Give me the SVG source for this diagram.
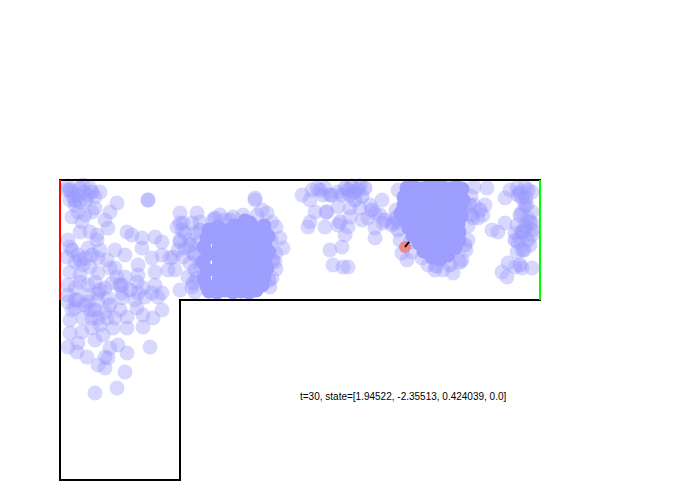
<svg xmlns="http://www.w3.org/2000/svg" width="700" height="500" viewBox="0 0 700 500">
<style>
.p{fill:#9999ff;fill-opacity:.38}
.d{fill:#9999ff;fill-opacity:.5}
.s{fill:#9e9eff}
.b{fill:#9e9eff}
.wall{fill:none;stroke:#000;stroke-width:2}
.lbl{font-family:"Liberation Sans",Arial,sans-serif;font-size:10px;fill:#000}
circle{r:7.5px}
</style>
<rect width="700" height="500" fill="#fff"/>
<g id="particles">
<!-- region A -->
<circle class="p" cx="67" cy="190" r="7"/><circle class="p" cx="73" cy="197" r="7"/><circle class="p" cx="83" cy="185" r="7"/><circle class="p" cx="88" cy="195" r="7"/><circle class="p" cx="95" cy="197" r="7"/><circle class="p" cx="100" cy="192" r="7"/><circle class="p" cx="75" cy="205" r="7"/><circle class="p" cx="70" cy="200" r="7"/><circle class="p" cx="80" cy="202" r="7"/><circle class="p" cx="92" cy="212" r="7"/><circle class="p" cx="85" cy="215" r="7"/><circle class="p" cx="78" cy="212" r="7"/><circle class="p" cx="82" cy="222" r="7"/><circle class="p" cx="95" cy="208" r="7"/><circle class="p" cx="117" cy="203" r="7"/><circle class="p" cx="110" cy="212" r="7"/><circle class="p" cx="72" cy="192" r="7"/><circle class="p" cx="90" cy="188" r="7"/><circle class="p" cx="78" cy="195" r="7"/><circle class="p" cx="68" cy="186" r="7"/><circle class="p" cx="84" cy="192" r="7"/>
<circle class="p" cx="148" cy="200" r="7"/><circle class="p" cx="148" cy="200" r="7"/>
<circle class="p" cx="72" cy="217" r="7"/><circle class="p" cx="105" cy="220" r="7"/><circle class="p" cx="108" cy="228" r="7"/><circle class="p" cx="97" cy="235" r="7"/><circle class="p" cx="90" cy="232" r="7"/><circle class="p" cx="80" cy="232" r="7"/><circle class="p" cx="68" cy="240" r="7"/><circle class="p" cx="70" cy="247" r="7"/><circle class="p" cx="67" cy="257" r="7"/><circle class="p" cx="78" cy="255" r="7"/><circle class="p" cx="85" cy="258" r="7"/><circle class="p" cx="83" cy="265" r="7"/><circle class="p" cx="90" cy="267" r="7"/><circle class="p" cx="98" cy="258" r="7"/><circle class="p" cx="107" cy="260" r="7"/><circle class="p" cx="115" cy="250" r="7"/><circle class="p" cx="125" cy="255" r="7"/><circle class="p" cx="115" cy="268" r="7"/><circle class="p" cx="127" cy="232" r="7"/><circle class="p" cx="132" cy="235" r="7"/><circle class="p" cx="142" cy="238" r="7"/><circle class="p" cx="142" cy="248" r="7"/><circle class="p" cx="155" cy="237" r="7"/><circle class="p" cx="162" cy="242" r="7"/><circle class="p" cx="152" cy="258" r="7"/><circle class="p" cx="162" cy="255" r="7"/><circle class="p" cx="170" cy="258" r="7"/><circle class="p" cx="180" cy="223" r="7"/><circle class="p" cx="182" cy="230" r="7"/><circle class="p" cx="180" cy="242" r="7"/><circle class="p" cx="178" cy="250" r="7"/><circle class="p" cx="97" cy="240" r="7"/><circle class="p" cx="88" cy="248" r="7"/><circle class="p" cx="75" cy="262" r="7"/><circle class="p" cx="100" cy="250" r="7"/>
<circle class="p" cx="70" cy="272" r="7"/><circle class="p" cx="80" cy="275" r="7"/><circle class="p" cx="98" cy="273" r="7"/><circle class="p" cx="110" cy="268" r="7"/><circle class="p" cx="117" cy="277" r="7"/><circle class="p" cx="125" cy="277" r="7"/><circle class="p" cx="138" cy="275" r="7"/><circle class="p" cx="155" cy="272" r="7"/><circle class="p" cx="168" cy="270" r="7"/><circle class="p" cx="68" cy="285" r="7"/><circle class="p" cx="75" cy="288" r="7"/><circle class="p" cx="88" cy="285" r="7"/><circle class="p" cx="95" cy="282" r="7"/><circle class="p" cx="112" cy="283" r="7"/><circle class="p" cx="122" cy="285" r="7"/><circle class="p" cx="137" cy="282" r="7"/><circle class="p" cx="143" cy="288" r="7"/><circle class="p" cx="155" cy="285" r="7"/><circle class="p" cx="162" cy="293" r="7"/><circle class="p" cx="68" cy="295" r="7"/><circle class="p" cx="88" cy="295" r="7"/><circle class="p" cx="98" cy="293" r="7"/><circle class="p" cx="122" cy="293" r="7"/><circle class="p" cx="138" cy="293" r="7"/><circle class="p" cx="152" cy="293" r="7"/><circle class="p" cx="138" cy="265" r="7"/><circle class="p" cx="80" cy="282" r="7"/><circle class="p" cx="105" cy="288" r="7"/>
<circle class="d" cx="70" cy="190" r="7"/><circle class="d" cx="80" cy="188" r="7"/><circle class="d" cx="92" cy="192" r="7"/><circle class="d" cx="75" cy="200" r="7"/><circle class="d" cx="86" cy="200" r="7"/><circle class="d" cx="72" cy="250" r="7"/><circle class="d" cx="80" cy="260" r="7"/><circle class="d" cx="92" cy="255" r="7"/><circle class="d" cx="120" cy="285" r="7"/><circle class="d" cx="130" cy="290" r="7"/><circle class="d" cx="100" cy="290" r="7"/>
<!-- region B -->
<circle class="p" cx="68" cy="302" r="7"/><circle class="p" cx="78" cy="300" r="7"/><circle class="p" cx="88" cy="302" r="7"/><circle class="p" cx="98" cy="300" r="7"/><circle class="p" cx="108" cy="298" r="7"/><circle class="p" cx="122" cy="298" r="7"/><circle class="p" cx="135" cy="300" r="7"/><circle class="p" cx="145" cy="297" r="7"/><circle class="p" cx="158" cy="297" r="7"/><circle class="p" cx="72" cy="310" r="7"/><circle class="p" cx="83" cy="318" r="7"/><circle class="p" cx="92" cy="318" r="7"/><circle class="p" cx="98" cy="318" r="7"/><circle class="p" cx="107" cy="318" r="7"/><circle class="p" cx="115" cy="318" r="7"/><circle class="p" cx="127" cy="317" r="7"/><circle class="p" cx="137" cy="308" r="7"/><circle class="p" cx="143" cy="315" r="7"/><circle class="p" cx="153" cy="318" r="7"/><circle class="p" cx="162" cy="310" r="7"/><circle class="p" cx="70" cy="333" r="7"/><circle class="p" cx="82" cy="332" r="7"/><circle class="p" cx="92" cy="328" r="7"/><circle class="p" cx="103" cy="335" r="7"/><circle class="p" cx="113" cy="328" r="7"/><circle class="p" cx="127" cy="328" r="7"/><circle class="p" cx="143" cy="327" r="7"/><circle class="p" cx="68" cy="347" r="7"/><circle class="p" cx="78" cy="343" r="7"/><circle class="p" cx="77" cy="352" r="7"/><circle class="p" cx="87" cy="357" r="7"/><circle class="p" cx="95" cy="340" r="7"/><circle class="p" cx="105" cy="357" r="7"/><circle class="p" cx="108" cy="358" r="7"/><circle class="p" cx="118" cy="345" r="7"/><circle class="p" cx="127" cy="353" r="7"/><circle class="p" cx="150" cy="347" r="7"/><circle class="p" cx="110" cy="348" r="7"/><circle class="p" cx="98" cy="365" r="7"/><circle class="p" cx="105" cy="368" r="7"/><circle class="p" cx="125" cy="372" r="7"/><circle class="p" cx="117" cy="388" r="7"/><circle class="p" cx="95" cy="393" r="7"/><circle class="p" cx="75" cy="308" r="7"/><circle class="p" cx="90" cy="310" r="7"/><circle class="p" cx="105" cy="312" r="7"/><circle class="p" cx="120" cy="310" r="7"/><circle class="p" cx="70" cy="320" r="7"/><circle class="p" cx="100" cy="325" r="7"/>
<circle class="d" cx="95" cy="310" r="7"/><circle class="d" cx="85" cy="305" r="7"/><circle class="d" cx="110" cy="305" r="7"/><circle class="d" cx="75" cy="300" r="7"/>
<!-- region C -->
<circle class="p" cx="255" cy="198" r="7"/><circle class="p" cx="255" cy="200" r="7"/><circle class="p" cx="302" cy="195" r="7"/>
<circle class="p" cx="180" cy="213" r="7"/><circle class="p" cx="197" cy="213" r="7"/><circle class="p" cx="183" cy="223" r="7"/><circle class="p" cx="177" cy="227" r="7"/><circle class="p" cx="192" cy="223" r="7"/><circle class="p" cx="200" cy="222" r="7"/><circle class="p" cx="185" cy="233" r="7"/><circle class="p" cx="195" cy="233" r="7"/><circle class="p" cx="198" cy="243" r="7"/><circle class="p" cx="190" cy="240" r="7"/><circle class="p" cx="180" cy="240" r="7"/><circle class="p" cx="173" cy="257" r="7"/><circle class="p" cx="183" cy="257" r="7"/><circle class="p" cx="193" cy="253" r="7"/><circle class="p" cx="190" cy="263" r="7"/><circle class="p" cx="175" cy="270" r="7"/><circle class="p" cx="188" cy="277" r="7"/><circle class="p" cx="180" cy="290" r="7"/><circle class="p" cx="192" cy="287" r="7"/><circle class="p" cx="197" cy="278" r="7"/><circle class="p" cx="213" cy="220" r="7"/><circle class="p" cx="220" cy="215" r="7"/><circle class="p" cx="225" cy="220" r="7"/><circle class="p" cx="233" cy="217" r="7"/><circle class="p" cx="243" cy="215" r="7"/><circle class="p" cx="257" cy="215" r="7"/><circle class="p" cx="267" cy="213" r="7"/><circle class="p" cx="272" cy="222" r="7"/><circle class="p" cx="276" cy="227" r="7"/><circle class="p" cx="280" cy="238" r="7"/><circle class="p" cx="283" cy="248" r="7"/><circle class="p" cx="276" cy="253" r="7"/><circle class="p" cx="275" cy="262" r="7"/><circle class="p" cx="276" cy="269" r="7"/><circle class="p" cx="272" cy="278" r="7"/><circle class="p" cx="270" cy="287" r="7"/><circle class="p" cx="262" cy="210" r="7"/><circle class="p" cx="185" cy="248" r="7"/><circle class="p" cx="200" cy="266" r="7"/><circle class="p" cx="195" cy="292" r="7"/>
<circle class="d" cx="195" cy="255" r="7"/><circle class="d" cx="195" cy="270" r="7"/><circle class="d" cx="193" cy="283" r="7"/><circle class="d" cx="200" cy="230" r="7"/><circle class="d" cx="215" cy="218" r="7"/><circle class="d" cx="230" cy="220" r="7"/><circle class="d" cx="271" cy="240" r="7"/><circle class="d" cx="273" cy="260" r="7"/><circle class="d" cx="269" cy="280" r="7"/><circle class="d" cx="190" cy="245" r="7"/>
<path class="b" d="M212,232 L262,232 L264,288 L212,288 Z"/>
<circle class="s" cx="209" cy="230" r="7"/><circle class="s" cx="218" cy="227" r="7"/><circle class="s" cx="226" cy="231" r="7"/><circle class="s" cx="234" cy="226" r="7"/><circle class="s" cx="243" cy="229" r="7"/><circle class="s" cx="250" cy="223" r="7"/><circle class="s" cx="257" cy="229" r="7"/><circle class="s" cx="264" cy="226" r="7"/><circle class="s" cx="245" cy="221" r="7"/>
<circle class="s" cx="268" cy="236" r="7"/><circle class="s" cx="265" cy="244" r="7"/><circle class="s" cx="269" cy="252" r="7"/><circle class="s" cx="265" cy="260" r="7"/><circle class="s" cx="267" cy="268" r="7"/><circle class="s" cx="264" cy="277" r="7"/><circle class="s" cx="262" cy="285" r="7"/>
<circle class="s" cx="209" cy="291" r="6.5"/><circle class="s" cx="217" cy="292" r="6.5"/><circle class="s" cx="225" cy="290" r="6.5"/><circle class="s" cx="233" cy="292" r="6.5"/><circle class="s" cx="241" cy="291" r="6.5"/><circle class="s" cx="249" cy="292" r="6.5"/><circle class="s" cx="256" cy="290" r="6.5"/>
<circle class="s" cx="207" cy="238" r="7"/><circle class="s" cx="204" cy="247" r="7"/><circle class="s" cx="208" cy="254" r="7"/><circle class="s" cx="203" cy="262" r="7"/><circle class="s" cx="207" cy="270" r="7"/><circle class="s" cx="204" cy="279" r="7"/><circle class="s" cx="207" cy="286" r="7"/>
<!-- region D -->
<circle class="p" cx="312" cy="190" r="7"/><circle class="p" cx="317" cy="188" r="7"/><circle class="p" cx="325" cy="188" r="7"/><circle class="p" cx="323" cy="195" r="7"/><circle class="p" cx="332" cy="195" r="7"/><circle class="p" cx="338" cy="192" r="7"/><circle class="p" cx="310" cy="200" r="7"/><circle class="p" cx="315" cy="212" r="7"/><circle class="p" cx="327" cy="212" r="7"/><circle class="p" cx="338" cy="207" r="7"/><circle class="p" cx="350" cy="208" r="7"/><circle class="p" cx="360" cy="208" r="7"/><circle class="p" cx="370" cy="205" r="7"/><circle class="p" cx="382" cy="200" r="7"/><circle class="p" cx="375" cy="213" r="7"/><circle class="p" cx="380" cy="215" r="7"/><circle class="p" cx="310" cy="222" r="7"/><circle class="p" cx="308" cy="227" r="7"/><circle class="p" cx="325" cy="227" r="7"/><circle class="p" cx="338" cy="225" r="7"/><circle class="p" cx="350" cy="217" r="7"/><circle class="p" cx="348" cy="227" r="7"/><circle class="p" cx="362" cy="220" r="7"/><circle class="p" cx="368" cy="218" r="7"/><circle class="p" cx="375" cy="228" r="7"/><circle class="p" cx="383" cy="223" r="7"/><circle class="p" cx="345" cy="235" r="7"/><circle class="p" cx="375" cy="238" r="7"/><circle class="p" cx="342" cy="247" r="7"/><circle class="p" cx="330" cy="250" r="7"/><circle class="p" cx="333" cy="265" r="7"/><circle class="p" cx="343" cy="267" r="7"/><circle class="p" cx="348" cy="267" r="7"/><circle class="p" cx="393" cy="223" r="7"/><circle class="p" cx="326" cy="212" r="7"/>
<circle class="d" cx="345" cy="188" r="7"/><circle class="d" cx="352" cy="186" r="7"/><circle class="d" cx="358" cy="190" r="7"/><circle class="d" cx="350" cy="195" r="7"/><circle class="d" cx="362" cy="196" r="7"/><circle class="d" cx="355" cy="200" r="7"/><circle class="d" cx="342" cy="195" r="7"/><circle class="d" cx="365" cy="188" r="7"/><circle class="d" cx="354" cy="192" r="7"/><circle class="d" cx="348" cy="190" r="7"/><circle class="d" cx="360" cy="186" r="7"/>
<circle class="d" cx="330" cy="195" r="7"/><circle class="d" cx="320" cy="190" r="7"/><circle class="d" cx="372" cy="210" r="7"/><circle class="d" cx="385" cy="220" r="7"/><circle class="d" cx="340" cy="222" r="7"/>
<!-- region E -->
<circle class="p" cx="398" cy="190" r="7"/><circle class="p" cx="392" cy="225" r="7"/><circle class="p" cx="398" cy="222" r="7"/><circle class="p" cx="402" cy="253" r="7"/><circle class="p" cx="407" cy="260" r="7"/><circle class="p" cx="422" cy="258" r="7"/><circle class="p" cx="428" cy="265" r="7"/><circle class="p" cx="435" cy="270" r="7"/><circle class="p" cx="443" cy="270" r="7"/><circle class="p" cx="453" cy="273" r="7"/><circle class="p" cx="462" cy="260" r="7"/><circle class="p" cx="466" cy="250" r="7"/><circle class="p" cx="468" cy="240" r="7"/><circle class="p" cx="466" cy="208" r="7"/><circle class="p" cx="474" cy="205" r="7"/><circle class="p" cx="473" cy="218" r="7"/><circle class="p" cx="485" cy="205" r="7"/><circle class="p" cx="483" cy="215" r="7"/><circle class="p" cx="478" cy="218" r="7"/><circle class="p" cx="487" cy="188" r="7"/><circle class="p" cx="492" cy="230" r="7"/><circle class="p" cx="498" cy="232" r="7"/><circle class="p" cx="474" cy="187" r="7"/><circle class="p" cx="396" cy="210" r="7"/><circle class="p" cx="400" cy="240" r="7"/><circle class="p" cx="412" cy="252" r="7"/><circle class="p" cx="471" cy="196" r="7"/><circle class="p" cx="468" cy="226" r="7"/><circle class="p" cx="410" cy="242" r="7"/>
<circle class="d" cx="396" cy="218" r="7"/><circle class="d" cx="398" cy="230" r="7"/><circle class="d" cx="470" cy="205" r="7"/><circle class="d" cx="472" cy="215" r="7"/><circle class="d" cx="465" cy="245" r="7"/><circle class="d" cx="460" cy="262" r="7"/><circle class="d" cx="450" cy="265" r="7"/><circle class="d" cx="436" cy="266" r="7"/><circle class="d" cx="480" cy="210" r="7"/>
<path class="b" d="M410,190 L460,190 L457,212 L456,240 L446,254 L430,256 L420,242 L410,228 L406,204 Z"/>
<circle class="s" cx="407" cy="188" r="7"/><circle class="s" cx="414" cy="187" r="7"/><circle class="s" cx="421" cy="189" r="7"/><circle class="s" cx="428" cy="187" r="7"/><circle class="s" cx="435" cy="188" r="7"/><circle class="s" cx="442" cy="187" r="7"/><circle class="s" cx="449" cy="189" r="7"/><circle class="s" cx="456" cy="187" r="7"/><circle class="s" cx="462" cy="189" r="7"/>
<circle class="s" cx="404" cy="197" r="7"/><circle class="s" cx="404" cy="205" r="7"/><circle class="s" cx="401" cy="213" r="7"/><circle class="s" cx="405" cy="220" r="7"/><circle class="s" cx="409" cy="228" r="7"/><circle class="s" cx="413" cy="236" r="7"/><circle class="s" cx="419" cy="243" r="7"/><circle class="s" cx="424" cy="251" r="7"/>
<circle class="s" cx="432" cy="257" r="7"/><circle class="s" cx="440" cy="259" r="7"/><circle class="s" cx="448" cy="255" r="7"/>
<circle class="s" cx="455" cy="248" r="7"/><circle class="s" cx="459" cy="240" r="7"/><circle class="s" cx="459" cy="232" r="7"/><circle class="s" cx="458" cy="224" r="7"/><circle class="s" cx="461" cy="216" r="7"/><circle class="s" cx="460" cy="208" r="7"/><circle class="s" cx="463" cy="200" r="7"/>
<!-- region F -->
<circle class="p" cx="505" cy="198" r="7"/><circle class="p" cx="510" cy="190" r="7"/><circle class="p" cx="517" cy="188" r="7"/><circle class="p" cx="525" cy="187" r="7"/><circle class="p" cx="532" cy="192" r="7"/><circle class="p" cx="522" cy="198" r="7"/><circle class="p" cx="527" cy="205" r="7"/><circle class="p" cx="522" cy="212" r="7"/><circle class="p" cx="532" cy="212" r="7"/><circle class="p" cx="517" cy="225" r="7"/><circle class="p" cx="525" cy="225" r="7"/><circle class="p" cx="532" cy="223" r="7"/><circle class="p" cx="515" cy="233" r="7"/><circle class="p" cx="523" cy="232" r="7"/><circle class="p" cx="532" cy="235" r="7"/><circle class="p" cx="518" cy="242" r="7"/><circle class="p" cx="522" cy="250" r="7"/><circle class="p" cx="517" cy="252" r="7"/><circle class="p" cx="530" cy="245" r="7"/><circle class="p" cx="505" cy="223" r="7"/><circle class="p" cx="508" cy="263" r="7"/><circle class="p" cx="515" cy="267" r="7"/><circle class="p" cx="522" cy="268" r="7"/><circle class="p" cx="532" cy="268" r="7"/><circle class="p" cx="502" cy="272" r="7"/><circle class="p" cx="507" cy="277" r="7"/><circle class="p" cx="528" cy="218" r="7"/><circle class="p" cx="520" cy="238" r="7"/>
<circle class="d" cx="520" cy="192" r="7"/><circle class="d" cx="528" cy="190" r="7"/><circle class="d" cx="525" cy="205" r="7"/><circle class="d" cx="530" cy="222" r="7"/><circle class="d" cx="522" cy="232" r="7"/><circle class="d" cx="528" cy="240" r="7"/>
<circle class="d" cx="518" cy="195" r="7"/><circle class="d" cx="526" cy="198" r="7"/><circle class="d" cx="520" cy="215" r="7"/><circle class="d" cx="526" cy="228" r="7"/><circle class="d" cx="515" cy="240" r="7"/><circle class="d" cx="532" cy="230" r="7"/><circle class="d" cx="524" cy="250" r="7"/><circle class="d" cx="520" cy="265" r="7"/>
</g>
<g id="agent">
<circle cx="405" cy="247" r="6" style="r:6px" fill="#f08080" fill-opacity=".9"/>
<line x1="405" y1="247" x2="409" y2="242" stroke="#000" stroke-width="2"/>
</g>
<g id="walls">
<path class="wall" d="M60,180 H540 V300 H180 V480 H60 Z"/>
<line x1="60" y1="180" x2="60" y2="300" stroke="#ff0000" stroke-width="2"/>
<line x1="540" y1="180" x2="540" y2="300" stroke="#00ff00" stroke-width="2"/>
</g>
<text class="lbl" x="300" y="400">t=30, state=[1.94522, -2.35513, 0.424039, 0.0]</text>
</svg>
